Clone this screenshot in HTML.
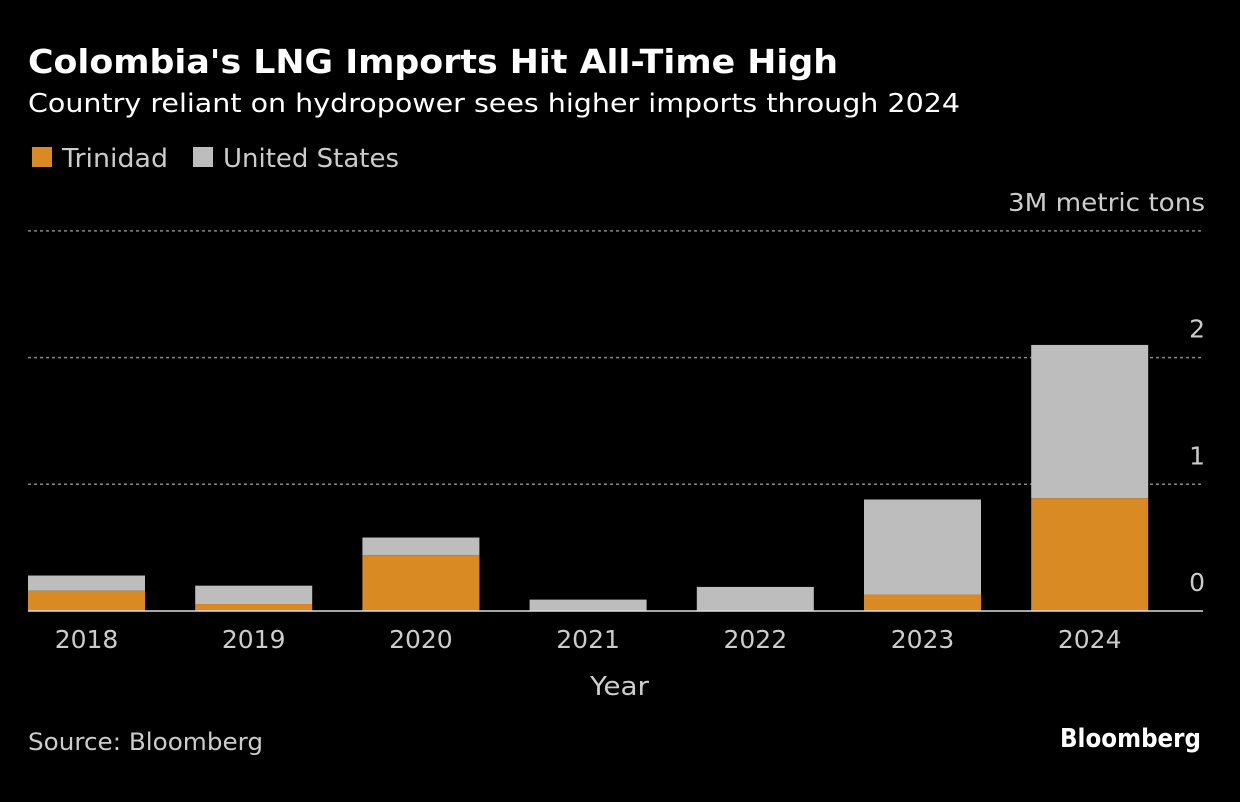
<!DOCTYPE html>
<html><head><meta charset="utf-8"><style>
body{margin:0;background:#000;width:1240px;height:798px;overflow:hidden;font-family:"DejaVu Sans","Liberation Sans",sans-serif;color:#fff}
</style></head><body>
<svg width="1240" height="798" id="svg" xmlns="http://www.w3.org/2000/svg" font-family="'DejaVu Sans','Liberation Sans',sans-serif">
<text x="28" y="73" font-size="33" font-weight="bold" fill="#fff" textLength="810" lengthAdjust="spacingAndGlyphs">Colombia's LNG Imports Hit All-Time High</text>
<text x="28" y="112" font-size="26" fill="#fff" textLength="932" lengthAdjust="spacingAndGlyphs">Country reliant on hydropower sees higher imports through 2024</text>
<g>
<rect x="32" y="147" width="20" height="20" fill="#d98a23"/>
<text x="62" y="167" font-size="26" fill="#ccc" textLength="106" lengthAdjust="spacingAndGlyphs">Trinidad</text>
<rect x="193" y="147" width="20" height="20" fill="#bdbdbd"/>
<text x="223" y="167" font-size="26" fill="#ccc" textLength="176" lengthAdjust="spacingAndGlyphs">United States</text>
</g>
<g id="plot"></g>
<text x="590" y="695" font-size="26" fill="#ccc" textLength="59" lengthAdjust="spacingAndGlyphs">Year</text>
<text x="28" y="750" font-size="24" fill="#ccc" textLength="235" lengthAdjust="spacingAndGlyphs">Source: Bloomberg</text>
<text x="1060" y="747" font-size="26" font-weight="bold" fill="#fff" textLength="141" lengthAdjust="spacingAndGlyphs">Bloomberg</text>
</svg>
<script>
const categories=["2018","2019","2020","2021","2022","2023","2024"];
const trinidad=[0.16,0.055,0.44,0,0,0.13,0.89];
const unitedStates=[0.12,0.145,0.14,0.09,0.19,0.75,1.21];
const yTicks=[0,1,2,3];
const yTickLabels=["0","1","2","3M metric tons"];
const NS="http://www.w3.org/2000/svg";
const g=document.getElementById('plot');
const x0=28,x1=1203,y0=611,pxPer=126.7;
const band=167.2;
const y=v=>y0-v*pxPer;
const xb=i=>x0+i*band;
function mk(t,a){const e=document.createElementNS(NS,t);for(const k in a)e.setAttribute(k,a[k]);g.appendChild(e);return e;}
yTicks.forEach((t,i)=>{
 if(t>0){const l=mk('line',{x1:x0,x2:x1,y1:y(t),y2:y(t),stroke:'#888','stroke-width':1.5,'stroke-dasharray':'3,3'});
 
 }
 const tx=mk('text',{x:1205,y:y(t)-20,'font-size':25,fill:'#ccc','text-anchor':'end'});
 if(i===yTicks.length-1){tx.setAttribute('textLength','197');tx.setAttribute('lengthAdjust','spacingAndGlyphs');}
 tx.textContent=yTickLabels[i];
 
 
});
categories.forEach((c,i)=>{
 const bx=xb(i),w=117;
 if(trinidad[i]>0){const r=mk('rect',{x:bx,y:y(trinidad[i]),width:w,height:trinidad[i]*pxPer,fill:'#d98a23'});
 
 }
 const r2=mk('rect',{x:bx,y:y(trinidad[i]+unitedStates[i]),width:w,height:unitedStates[i]*pxPer,fill:'#bdbdbd'});
 
 
 const t=mk('text',{x:bx+w/2,y:648,'font-size':25,fill:'#ccc','text-anchor':'middle'});
 t.textContent=c;
 
 
});
const base=mk('line',{x1:x0,x2:x1,y1:y0,y2:y0,stroke:'#ddd','stroke-width':1.5});


</script>
</body></html>
